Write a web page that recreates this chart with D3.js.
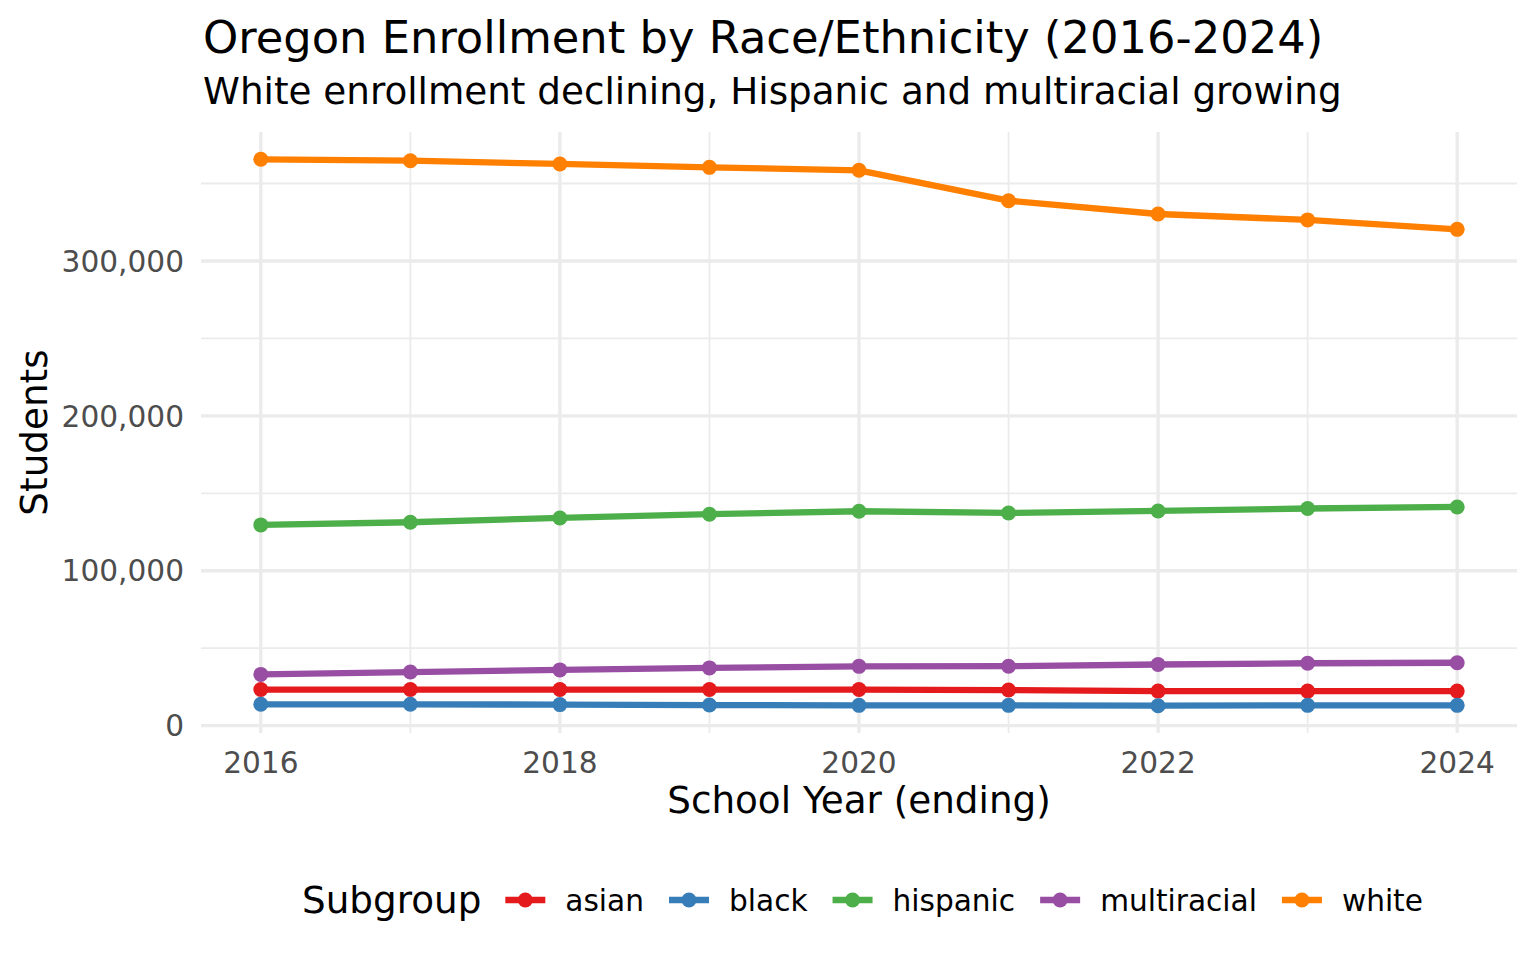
<!DOCTYPE html>
<html>
<head>
<meta charset="UTF-8">
<script src="https://d3js.org/d3.v7.min.js"></script>
<style>
  body { margin: 0; background: #fff; }
  text { font-family: "DejaVu Sans", sans-serif; }
</style>
</head>
<body>
<svg width="1536" height="960"></svg>
<script>
const years = [2016, 2017, 2018, 2019, 2020, 2021, 2022, 2023, 2024];
const subgroups = ["asian", "black", "hispanic", "multiracial", "white"];
const asian = [23300, 23300, 23300, 23300, 23300, 23000, 22300, 22300, 22300];
const black = [13800, 13800, 13600, 13300, 13100, 13100, 12900, 13100, 13100];
const hispanic = [129600, 131300, 134100, 136500, 138400, 137300, 138600, 140200, 141200];
const multiracial = [33100, 34600, 36000, 37300, 38300, 38400, 39500, 40300, 40600];
const white = [365600, 364700, 362600, 360400, 358500, 338900, 330300, 326500, 320400];
const colors = ["#E41A1C", "#377EB8", "#4DAF4A", "#984EA3", "#FF7F00"];
const yTicks = [0, 100000, 200000, 300000];
const xTicks = [2016, 2018, 2020, 2022, 2024];

const seriesValues = [asian, black, hispanic, multiracial, white];
const series = subgroups.map((name, i) => ({
  name: name,
  color: colors[i],
  values: years.map((yr, j) => ({ year: yr, value: seriesValues[i][j] }))
}));

const svg = d3.select("svg");
const panel = { left: 201, right: 1517, top: 132, bottom: 733 };
const baseSize = 37.3, smallSize = 29.6, titleSize = 44.8;

// ggplot-style 5% expansion
const xMin = d3.min(years), xMax = d3.max(years);
const xPad = (xMax - xMin) * 0.05;
const x = d3.scaleLinear().domain([xMin - xPad, xMax + xPad]).range([panel.left, panel.right]);
const allVals = seriesValues.flat();
const yMin = d3.min(allVals), yMax = d3.max(allVals);
const yPad = (yMax - yMin) * 0.05;
const y = d3.scaleLinear().domain([yMin - yPad, yMax + yPad]).range([panel.bottom, panel.top]);

// grid
const grid = svg.append("g");
const yMinor = [50000, 150000, 250000, 350000];
const xMinor = [2017, 2019, 2021, 2023];
grid.selectAll(".ymin").data(yMinor).enter().append("line")
  .attr("x1", panel.left).attr("x2", panel.right)
  .attr("y1", d => y(d)).attr("y2", d => y(d))
  .attr("stroke", "#EBEBEB").attr("stroke-width", 1.8);
grid.selectAll(".xmin").data(xMinor).enter().append("line")
  .attr("y1", panel.top).attr("y2", panel.bottom)
  .attr("x1", d => x(d)).attr("x2", d => x(d))
  .attr("stroke", "#EBEBEB").attr("stroke-width", 1.8);
grid.selectAll(".ymaj").data(yTicks).enter().append("line")
  .attr("x1", panel.left).attr("x2", panel.right)
  .attr("y1", d => y(d)).attr("y2", d => y(d))
  .attr("stroke", "#EBEBEB").attr("stroke-width", 3.4);
grid.selectAll(".xmaj").data(xTicks).enter().append("line")
  .attr("y1", panel.top).attr("y2", panel.bottom)
  .attr("x1", d => x(d)).attr("x2", d => x(d))
  .attr("stroke", "#EBEBEB").attr("stroke-width", 3.4);

// axes labels
const fmt = d3.format(",");
svg.append("g").selectAll("text").data(yTicks).enter().append("text")
  .attr("x", panel.left - 17).attr("y", d => y(d)).attr("dy", "0.36em")
  .attr("text-anchor", "end").attr("font-size", smallSize).attr("fill", "#4D4D4D")
  .text(d => fmt(d));
svg.append("g").selectAll("text").data(xTicks).enter().append("text")
  .attr("x", d => x(d)).attr("y", 773)
  .attr("text-anchor", "middle").attr("font-size", smallSize).attr("fill", "#4D4D4D")
  .text(d => d);

svg.append("text").attr("x", (panel.left + panel.right) / 2).attr("y", 813)
  .attr("text-anchor", "middle").attr("font-size", baseSize).text("School Year (ending)");
svg.append("text").attr("transform", `translate(47,${(panel.top + panel.bottom) / 2}) rotate(-90)`)
  .attr("text-anchor", "middle").attr("font-size", baseSize).text("Students");

// lines and points
const line = d3.line().x(d => x(d.year)).y(d => y(d.value));
const lines = svg.append("g");
series.forEach(s => {
  lines.append("path").datum(s.values).attr("d", line)
    .attr("fill", "none").attr("stroke", s.color).attr("stroke-width", 6.3)
    .attr("stroke-linejoin", "round");
  lines.selectAll(null).data(s.values).enter().append("circle")
    .attr("cx", d => x(d.year)).attr("cy", d => y(d.value)).attr("r", 7.5)
    .attr("fill", s.color);
});

// titles
svg.append("text").attr("x", 203).attr("y", 53).attr("font-size", titleSize).text("Oregon Enrollment by Race/Ethnicity (2016-2024)");
svg.append("text").attr("x", 203).attr("y", 104).attr("font-size", baseSize).text("White enrollment declining, Hispanic and multiracial growing");

// legend
const leg = svg.append("g");
const legY = 900;
const legTitle = leg.append("text").attr("x", 302).attr("y", legY).attr("dy", "0.36em")
  .attr("font-size", baseSize).text("Subgroup");
let lx = 302 + legTitle.node().getComputedTextLength() + 24;
series.forEach(s => {
  leg.append("line").attr("x1", lx).attr("x2", lx + 40).attr("y1", legY).attr("y2", legY)
    .attr("stroke", s.color).attr("stroke-width", 6.3);
  leg.append("circle").attr("cx", lx + 20).attr("cy", legY).attr("r", 7.5).attr("fill", s.color);
  const t = leg.append("text").attr("x", lx + 60).attr("y", legY).attr("dy", "0.36em")
    .attr("font-size", smallSize).text(s.name);
  lx += 60 + t.node().getComputedTextLength() + 25;
});
</script>
</body>
</html>
